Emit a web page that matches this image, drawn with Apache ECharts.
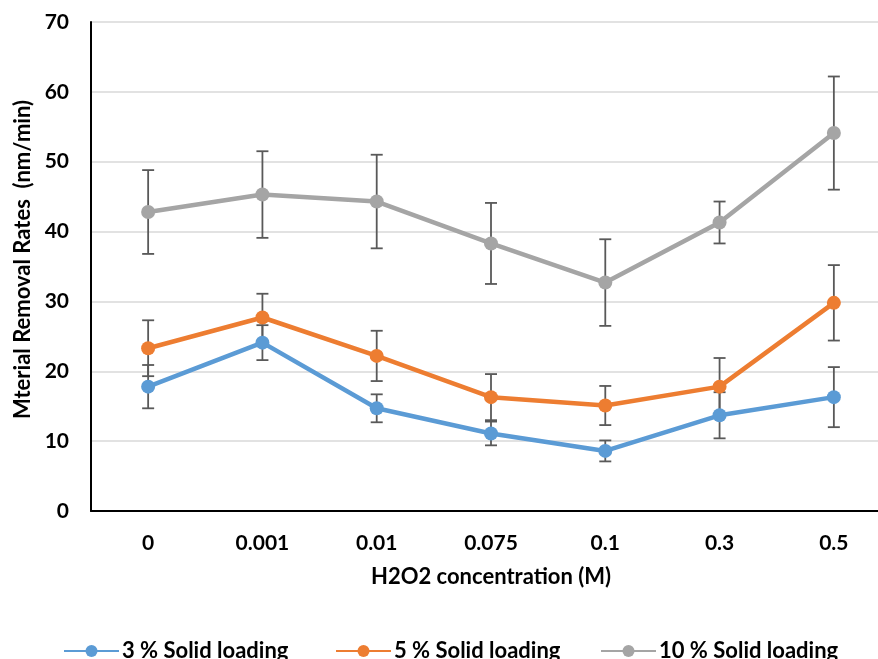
<!DOCTYPE html>
<html>
<head>
<meta charset="utf-8">
<script src="https://cdn.jsdelivr.net/npm/echarts@6/dist/echarts.min.js"></script>
<style>
html,body{margin:0;padding:0;background:#fff;overflow:hidden;width:878px;height:659px;}
#chart{width:891px;height:659px;}
</style>
</head>
<body>
<div id="chart"></div>
<script>
const categories = ['0', '0.001', '0.01', '0.075', '0.1', '0.3', '0.5'];
const yTicks = [0, 10, 20, 30, 40, 50, 60, 70];
const names = ['3 % Solid loading', '5 % Solid loading', '10 % Solid loading'];
const values3 = [17.8, 24.1, 14.7, 11.1, 8.6, 13.7, 16.3];
const errors3 = [3.1, 2.5, 2.0, 1.7, 1.5, 3.3, 4.3];
const values5 = [23.3, 27.7, 22.2, 16.3, 15.1, 17.8, 29.8];
const errors5 = [4.0, 3.4, 3.6, 3.3, 2.8, 4.1, 5.4];
const values10 = [42.8, 45.3, 44.3, 38.3, 32.7, 41.3, 54.1];
const errors10 = [6.0, 6.2, 6.7, 5.8, 6.2, 3.0, 8.1];

const colors = ['#5B9BD5', '#ED7D31', '#A5A5A5'];
const FONT = 'Lato';
const legendLeft = [63, 335, 600];

function errSeries(name, vals, errs) {
  return {
    name: name + ' err',
    type: 'custom',
    z: 1,
    silent: true,
    data: vals.map((v, i) => [i, v, errs[i]]),
    renderItem: function (params, api) {
      const x = api.value(0), v = api.value(1), e = api.value(2);
      const top = api.coord([x, v + e]);
      const bot = api.coord([x, v - e]);
      const hw = 6;
      const st = { stroke: '#595959', lineWidth: 1.8 };
      return {
        type: 'group',
        children: [
          { type: 'line', shape: { x1: top[0], y1: top[1], x2: bot[0], y2: bot[1] }, style: st },
          { type: 'line', shape: { x1: top[0] - hw, y1: top[1], x2: top[0] + hw, y2: top[1] }, style: st },
          { type: 'line', shape: { x1: bot[0] - hw, y1: bot[1], x2: bot[0] + hw, y2: bot[1] }, style: st }
        ]
      };
    }
  };
}

function lineSeries(name, vals, color) {
  return {
    name: name,
    type: 'line',
    z: 3,
    data: vals,
    symbol: 'circle',
    symbolSize: 14,
    itemStyle: { color: color },
    lineStyle: { color: color, width: 4.5 }
  };
}

const chart = echarts.init(document.getElementById('chart'));
chart.setOption({
  animation: false,
  textStyle: { fontFamily: FONT },
  grid: { left: 91, right: 0, top: 22, bottom: 148 },
  legend: names.map((n, i) => ({
    data: [n],
    left: legendLeft[i],
    top: 640,
    padding: 0,
    itemWidth: 55,
    itemHeight: 15,
    textStyle: { fontFamily: FONT, fontWeight: 'bold', fontSize: 22, color: '#000', padding: [0, 0, 0, -2] }
  })),
  xAxis: {
    type: 'category',
    data: categories,
    boundaryGap: true,
    name: 'H2O2 concentration (M)',
    nameLocation: 'middle',
    nameGap: 55,
    nameTextStyle: { fontFamily: FONT, fontWeight: 'bold', fontSize: 22, color: '#000' },
    axisLine: { lineStyle: { color: '#000', width: 2 } },
    axisTick: { show: false },
    axisLabel: { margin: 22, fontFamily: FONT, fontWeight: 'bold', fontSize: 21, color: '#000' }
  },
  yAxis: {
    type: 'value',
    min: yTicks[0],
    max: yTicks[yTicks.length - 1],
    interval: 10,
    name: 'Mterial Removal Rates  (nm/min)',
    nameLocation: 'middle',
    nameGap: 56,
    nameTextStyle: { fontFamily: FONT, fontWeight: 'bold', fontSize: 22, color: '#000', padding: [0, 0, 0, 14] },
    axisLine: { show: true, lineStyle: { color: '#000', width: 2 } },
    axisTick: { show: false },
    axisLabel: { margin: 22, fontFamily: FONT, fontWeight: 'bold', fontSize: 21, color: '#000' },
    splitLine: { lineStyle: { color: '#d9d9d9', width: 1.5 } }
  },
  series: [
    errSeries(names[0], values3, errors3),
    errSeries(names[1], values5, errors5),
    errSeries(names[2], values10, errors10),
    lineSeries(names[0], values3, colors[0]),
    lineSeries(names[1], values5, colors[1]),
    lineSeries(names[2], values10, colors[2])
  ]
});
</script>
</body>
</html>
